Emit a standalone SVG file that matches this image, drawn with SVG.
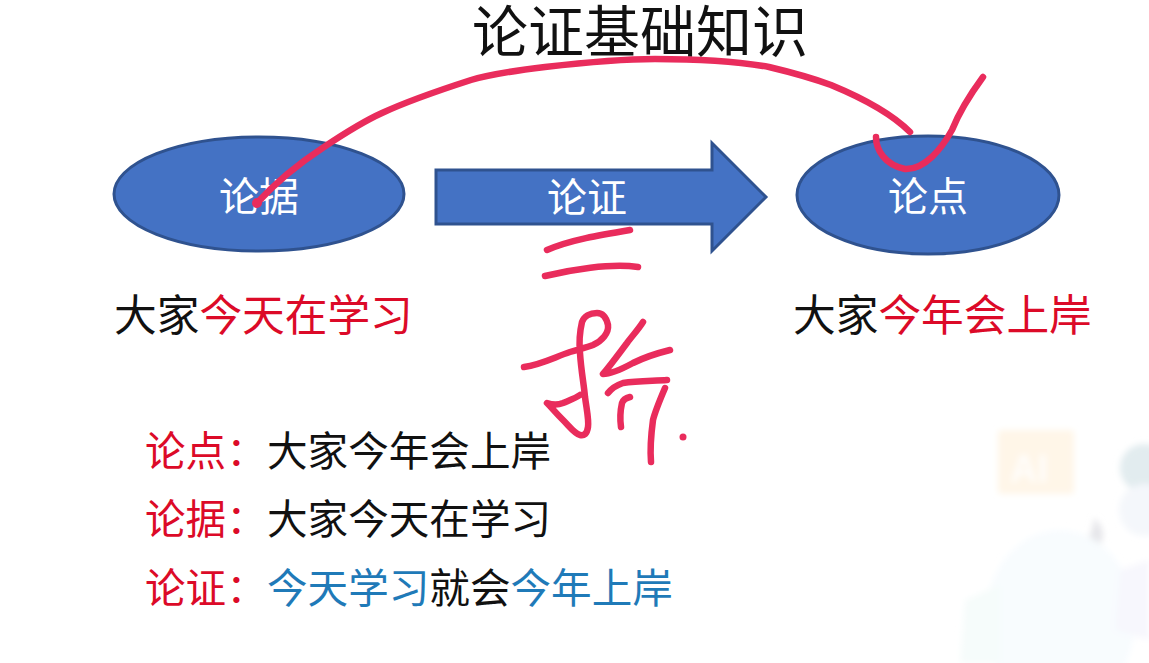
<svg xmlns="http://www.w3.org/2000/svg" width="1149" height="663" viewBox="0 0 1149 663">
<defs>
<filter id="soft" x="-20%" y="-20%" width="140%" height="140%"><feGaussianBlur stdDeviation="3"/></filter>
</defs>
<style>
text{font-family:"Liberation Sans","Noto Sans CJK SC",sans-serif}
.shape{fill:#4472c4;stroke:#2f528f;stroke-width:3}
.w{fill:#fff;font-size:40px;text-anchor:middle}
.u{font-size:42.7px;fill:#111}
.t{font-size:40.6px;fill:#111}
.r{fill:#dc0a28}
.b{fill:#1f7ab8}
.ink{fill:none;stroke:#e92c5c;stroke-width:6.5;stroke-linecap:round;stroke-linejoin:round}
</style>
<rect width="1149" height="663" fill="#fff"/>
<g id="watermark" filter="url(#soft)">
<rect x="998" y="430" width="76" height="64" rx="4" fill="#fff6e8"/>
<text x="1010" y="482" font-size="38" font-weight="bold" fill="#fffdfb">AI</text>
<ellipse cx="1144" cy="468" rx="24" ry="24" fill="#e2ecef"/>
<ellipse cx="1145" cy="510" rx="26" ry="26" fill="#f4f7fb"/>
<path d="M1094 518Q1092 545 1070 552Q1085 566 1100 545Q1108 530 1094 518Z" fill="#e6e6ea"/>
<ellipse cx="1060" cy="620" rx="75" ry="90" fill="#f8fcfe"/>
<path d="M965 600L1000 585L1000 663L960 663Z" fill="#f6fcfb"/>
<path d="M1120 570L1149 560L1149 640L1115 630Z" fill="#f7f7fd"/>
</g>
<text id="title" x="640" y="52" font-size="56" text-anchor="middle" fill="#111">论证基础知识</text>
<g id="node-lunju">
<ellipse class="shape" cx="259" cy="194" rx="145" ry="57"/>
<text class="w" x="259" y="211">论据</text>
</g>
<g id="node-lunzheng">
<path class="shape" d="M436 170H712V143L766 197L712 251V224H436Z"/>
<text class="w" x="587" y="212">论证</text>
</g>
<g id="node-lundian">
<ellipse class="shape" cx="928" cy="195" rx="131" ry="59"/>
<text class="w" x="928" y="211">论点</text>
</g>
<g id="text-left"><text class="u" x="114" y="331">大家<tspan class="r">今天在学习</tspan></text></g>
<g id="text-right"><text class="u" x="793" y="331">大家<tspan class="r">今年会上岸</tspan></text></g>
<g id="definitions">
<text class="t" x="145" y="466"><tspan class="r">论点：</tspan></text><text class="t" x="267" y="466">大家今年会上岸</text>
<text class="t" x="145" y="534"><tspan class="r">论据：</tspan></text><text class="t" x="267" y="534">大家今天在学习</text>
<text class="t" x="145" y="603"><tspan class="r">论证：</tspan></text><text class="t" x="267" y="603"><tspan class="b">今天学习</tspan>就会<tspan class="b">今年上岸</tspan></text>
</g>
<g id="connectors">
<path class="ink" d="M256 204C276 182 298 164 324 147C342 135 362 122 382 113C410 100 440 90 471 80C495 73 520 70 545 67C580 63 618 59 655 59C695 59 735 61 769 67C790 72 812 78 831 85C860 97 890 112 910 132"/>
<circle cx="257" cy="203" r="5" fill="#e92c5c"/>
<path class="ink" d="M876 137C876 150 885 165 905 169C925 170 942 148 952 130C960 110 972 92 983 77"/>
<path class="ink" d="M547 250C570 240 600 235 630 230"/>
<path class="ink" d="M545 276C570 270 610 263 638 267"/>
<path class="ink" d="M524 367C540 365 555 357 570 352C580 349 588 347 593 345C602 341 609 333 608 325C606 316 602 313 597 313C590 313 584 316 582 322C579 335 579 343 580 353C581 370 584 385 585 397C587 412 589 420 588 427C587 434 584 436 580 435C575 434 570 427 563 420C556 413 552 408 547 403C553 405 558 405 563 403C570 400 576 398 580 395"/>
<path class="ink" d="M643 322C638 330 632 336 627 343C618 355 610 366 603 374C612 374 622 369 633 363C645 357 658 353 670 350"/>
<path class="ink" d="M608 393C612 388 617 385 623 383C637 381 652 381 667 380"/>
<path class="ink" d="M630 397C626 398 623 400 622 403C620 412 620 420 621 427"/>
<path class="ink" d="M665 388C659 402 655 412 653 420C651 435 650 450 651 462"/>
<circle cx="683" cy="437" r="3.5" fill="#e92c5c"/>
</g>
</svg>
